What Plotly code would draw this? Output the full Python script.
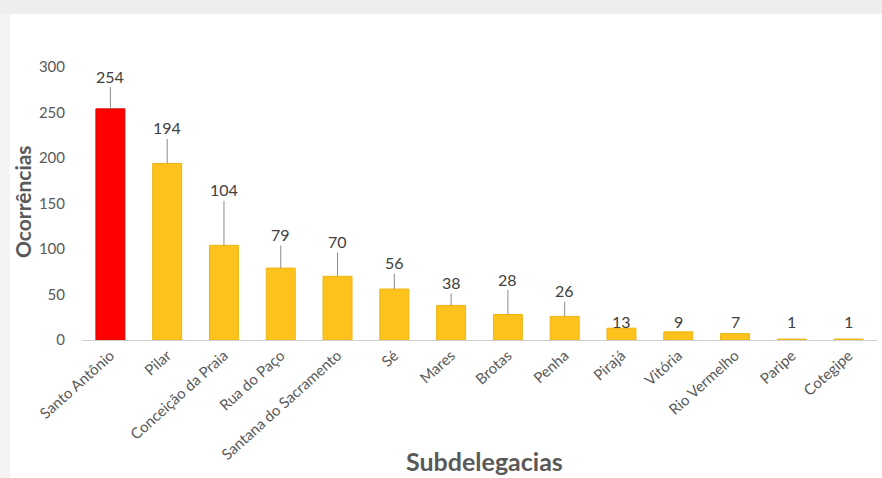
import plotly.graph_objects as go

categories = ["Santo Antônio", "Pilar", "Conceição da Praia", "Rua do Paço",
              "Santana do Sacramento", "Sé", "Mares", "Brotas", "Penha",
              "Pirajá", "Vitória", "Rio Vermelho", "Paripe", "Cotegipe"]
values = [254, 194, 104, 79, 70, 56, 38, 28, 26, 13, 9, 7, 1, 1]
y_ticks = [0, 50, 100, 150, 200, 250, 300]

# label placement (style): height of each data label in axis units, and whether a leader line is drawn
label_y = [290, 233, 165, 116, 108, 85, 63, 67, 54, 20, 20, 20, 20, 20]
leader = [True] * 9 + [False] * 5

W, H = 882, 478
L, R, T, B = 82, 5, 67, 138

colors = ["#FF0000"] + ["#FDC31C"] * (len(values) - 1)
lines = ["#D80000"] + ["#EDB412"] * (len(values) - 1)

fig = go.Figure()
fig.add_trace(go.Bar(
    x=categories, y=values,
    marker=dict(color=colors, line=dict(color=lines, width=1)),
    width=0.51,
    hoverinfo="x+y",
))

font_fam = "Lato, 'Open Sans', sans-serif"
gray = "#595959"

annotations = []
for c, v, ly, ld in zip(categories, values, label_y, leader):
    if ld:
        annotations.append(dict(
            x=c, y=v, ax=c, ay=ly, xref="x", yref="y", axref="x", ayref="y",
            text=str(v), showarrow=True, arrowhead=0, arrowwidth=1,
            arrowcolor="#8c8c8c", standoff=0, startstandoff=0,
            font=dict(family=font_fam, size=16, color="#404040"),
        ))
    else:
        annotations.append(dict(
            x=c, y=ly, xref="x", yref="y", text=str(v), showarrow=False,
            xanchor="center", yanchor="middle",
            font=dict(family=font_fam, size=16, color="#404040"),
        ))

annotations.append(dict(
    text="<b>Subdelegacias</b>", xref="paper", yref="paper",
    x=(484 - L) / (W - L - R), y=-(477 - 340) / (H - T - B),
    xanchor="center", yanchor="bottom", borderpad=0,
    showarrow=False, font=dict(family=font_fam, size=25, color=gray),
))
annotations.append(dict(
    text="<b>Ocorrências</b>", xref="paper", yref="paper", textangle=-90,
    x=(22 - L) / (W - L - R), y=(340 - 202) / (H - T - B),
    xanchor="center", yanchor="middle",
    showarrow=False, font=dict(family=font_fam, size=21, color=gray),
))

shapes = [
    dict(type="rect", xref="paper", yref="paper",
         x0=(0 - L) / (W - L - R), x1=(10 - L) / (W - L - R),
         y0=-2, y1=2, fillcolor="#f4f4f4", line=dict(width=0), layer="below"),
    dict(type="rect", xref="paper", yref="paper",
         x0=(0 - L) / (W - L - R), x1=2,
         y0=1 + (T - 14) / (H - T - B), y1=1 + T / (H - T - B),
         fillcolor="#eeeeee", line=dict(width=0), layer="below"),
]

fig.update_layout(
    width=W, height=H,
    margin=dict(l=L, r=R, t=T, b=B),
    paper_bgcolor="white", plot_bgcolor="white",
    showlegend=False,
    bargap=0.49,
    annotations=annotations,
    shapes=shapes,
    xaxis=dict(
        tickangle=-42, tickfont=dict(family=font_fam, size=15, color=gray),
        showgrid=False, showline=True, linecolor="#d0d0d0", linewidth=1,
        ticks="", zeroline=False, fixedrange=True,
    ),
    yaxis=dict(
        range=[0, 300], tickvals=y_ticks,
        tickfont=dict(family=font_fam, size=15, color=gray),
        showgrid=False, showline=False, zeroline=False, ticks="",
        ticklabelstandoff=16, fixedrange=True,
    ),
)

fig.write_html("out.html")
